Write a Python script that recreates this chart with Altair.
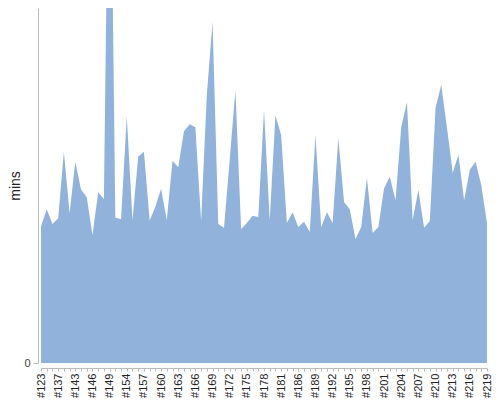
import altair as alt
import pandas as pd

builds = [123, 128, 133, 137, 139, 141, 143, 144, 145, 146, 147, 148, 149, 150, 152,
          154, 155, 156, 157, 158, 159, 160, 161, 162, 163, 164, 165, 166, 167, 168,
          169, 170, 171, 172, 173, 174, 175, 176, 177, 178, 179, 180, 181, 183, 184,
          186, 187, 188, 189, 190, 191, 192, 193, 194, 195, 196, 197, 198, 199, 200,
          201, 202, 203, 204, 205, 206, 207, 208, 209, 210, 211, 212, 213, 214, 215,
          216, 217, 218, 219]

mins = [22.8, 25.7, 23.2, 24.2, 35.3, 25.0, 33.6, 29.0, 27.7, 21.4,
        28.5, 27.4, 104.8, 24.3, 24.0, 41.2, 23.9, 34.5, 35.3, 23.8,
        26.1, 29.1, 23.9, 33.8, 32.7, 38.7, 39.9, 39.4, 23.7, 44.8,
        57.0, 23.2, 22.6, 33.9, 45.6, 22.4, 23.4, 24.6, 24.4, 42.3,
        23.9, 41.4, 38.1, 23.4, 25.2, 22.7, 23.6, 21.9, 38.1, 22.7,
        25.2, 23.4, 37.6, 26.9, 25.7, 20.7, 22.7, 30.9, 21.7, 22.7,
        29.2, 31.1, 27.2, 39.4, 43.6, 23.9, 28.9, 22.6, 23.7, 42.6,
        46.5, 39.3, 31.8, 34.8, 27.2, 32.3, 33.6, 29.7, 23.4]

shown_labels = ["#123", "#137", "#143", "#146", "#149", "#154", "#157", "#160", "#163",
                "#166", "#169", "#172", "#175", "#178", "#181", "#186", "#189", "#192",
                "#195", "#198", "#201", "#204", "#207", "#210", "#213", "#216", "#219"]

df = pd.DataFrame({"build": ["#" + str(b) for b in builds], "mins": mins})

label_expr = ("indexof([" + ",".join("'" + s + "'" for s in shown_labels)
              + "], datum.label) >= 0 ? datum.label : ''")

chart = alt.Chart(df).mark_area(color="#91b3db", opacity=1, clip=True).encode(
    x=alt.X("build:N", sort=None,
            scale=alt.Scale(type="point", padding=0),
            axis=alt.Axis(title=None, labelAngle=-90, labelExpr=label_expr,
                          labelOverlap=False, offset=5, tickSize=3,
                          domainColor="#bbbbbb", tickColor="#bbbbbb",
                          labelFont="Liberation Sans", labelFontSize=11,
                          labelColor="#222222", labelPadding=2,
                          labelAlign="right", labelBaseline="middle")),
    y=alt.Y("mins:Q",
            scale=alt.Scale(domain=[0, 59.3], nice=False, zero=True),
            axis=alt.Axis(values=[0], title="mins", grid=False, offset=3,
                          tickSize=5, domainColor="#bbbbbb", tickColor="#bbbbbb",
                          labelFont="Liberation Sans", labelFontSize=11,
                          labelColor="#444444", labelPadding=3,
                          titleFont="Liberation Sans", titleFontSize=14,
                          titleFontWeight="normal", titleColor="#222222",
                          titleBaseline="middle", titleX=-23)),
).properties(
    width=446, height=355,
    autosize=alt.AutoSizeParams(type="none"),
    padding={"left": 33, "top": 0, "right": 5, "bottom": 37},
).configure_view(stroke=None)

chart.save("out.html", embed_options={"renderer": "svg", "actions": False})
